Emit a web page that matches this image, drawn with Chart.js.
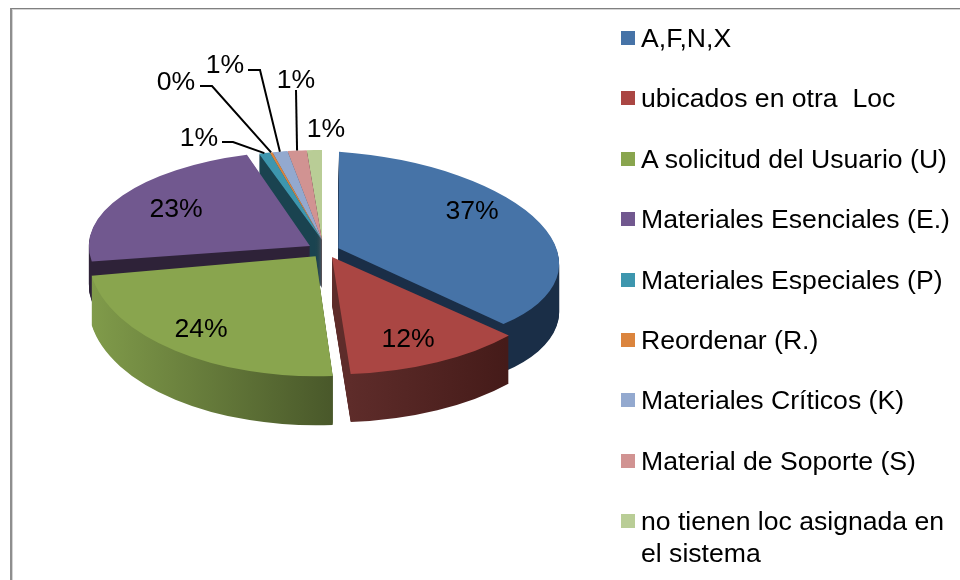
<!DOCTYPE html>
<html lang="es">
<head>
<meta charset="utf-8">
<title>Materiales</title>
<script src="https://cdn.jsdelivr.net/npm/chart.js@4"></script>
<style>
    html, body { margin: 0; padding: 0; background: #fff; overflow: hidden; }
    #wrap { position: relative; width: 960px; height: 580px; overflow: hidden; font-family: "Liberation Sans", Arial, sans-serif; }
    #frame { position: absolute; left: 10px; top: 8px; width: 980px; height: 600px; border-left: 2px solid #8e8e8e; border-top: 1px solid #808080; box-shadow: inset 1px 1px 0 #d4d4d4; }
    #pie { position: absolute; left: 0; top: 0; }
    #legend { position: absolute; left: 621px; top: 23px; width: 330px; margin: 0; padding: 0; list-style: none; }
    #legend li { display: flex; align-items: flex-start; margin-bottom: 28.5px; font-size: 26.6px; line-height: 31.9px; color: #000; white-space: pre-wrap; }
    #legend span.box { flex: none; width: 14px; height: 14px; margin: 8px 6px 0 0; }
</style>
</head>
<body>
<div id="wrap">
    <div id="frame"></div>
    <canvas id="pie" width="960" height="580"></canvas>
    <ul id="legend"></ul>
</div>
<script>
// Data
const categories = ['A,F,N,X', 'ubicados en otra  Loc', 'A solicitud del Usuario (U)', 'Materiales Esenciales (E.)',
    'Materiales Especiales (P)', 'Reordenar (R.)', 'Materiales Críticos (K)', 'Material de Soporte (S)',
    'no tienen loc asignada en el sistema'];
const shares = [36.6, 12.2, 23.6, 23.0, 0.8, 0.2, 1.1, 1.4, 1.1];

// Styles
const topColors = ['#4673a7', '#aa4643', '#89a54e', '#71588f', '#3d96ae', '#db843d', '#93a9cf', '#d19392', '#b9cd96'];
const wallLeft = ['#1a2e47', '#5e2c2a', '#809b4a', '#2e2238', '#1a4350', '#7a4a20', '#4a5a70', '#6a4a4a', '#5a6648'];
const wallRight = ['#1a2e47', '#451b19', '#49582a', '#2e2238', '#1a4350', '#7a4a20', '#4a5a70', '#6a4a4a', '#5a6648'];
const sliceOffsets = [65, 65, 64, 77, 0, 0, 0, 0, 0];
const sliceRx = [217, 233, 227, 221, 221, 221, 221, 221, 221];
const sliceRy = [95, 115, 120, 95, 90, 90, 90, 90, 90];
const sliceShear = [0.07, 0, 0, 0, 0, 0, 0, 0, 0];
const sliceShiftX = [0, 0, 0, 0, -3, -3, -3, -3, -3];
const sliceShiftY = [0, 0, 0, 0, -10, -10, -10, -10, -10];
const sliceDepth = [48, 48, 49, 40, 48, 48, 48, 48, 48];
const pieRadius = 240;
const pieCenter = [325, 250];

// Label placement
const labelX = [472, 408, 201, 176, 199, 176, 225, 296, 326];
const labelY = [212, 340, 330, 210, 139, 83, 66, 81, 130];
const leaderElbows = [null, null, null, null, [[222, 142], [233, 142]], [[200, 86], [212, 86]], [[248, 70], [260, 70]], [[296, 90]], null];

function sliceView(i) {
    const sx = sliceRx[i] / pieRadius;
    return { sx: sx, sy: sliceRy[i] / pieRadius, shear: sliceShear[i] * sx };
}

function paintSlice(ctx, arc, i, depth) {
    const v = sliceView(i);
    ctx.save();
    ctx.translate(pieCenter[0] + sliceShiftX[i], pieCenter[1] + sliceShiftY[i] + depth);
    ctx.transform(v.sx, v.shear, 0, v.sy, 0, 0);
    ctx.translate(-arc.x, -arc.y);
    arc.draw(ctx);
    ctx.restore();
}

function wallFill(ctx, arc, i) {
    const xs = [Math.cos(arc.startAngle), Math.cos(arc.endAngle)];
    if (arc.startAngle < Math.PI && arc.endAngle > Math.PI) xs.push(-1);
    if (arc.startAngle < 0 && arc.endAngle > 0) xs.push(1);
    const x0 = arc.x + Math.min(...xs) * arc.outerRadius;
    const x1 = arc.x + Math.max(...xs) * arc.outerRadius;
    const grad = ctx.createLinearGradient(x0, 0, x1, 0);
    grad.addColorStop(0, wallLeft[i]);
    grad.addColorStop(1, wallRight[i]);
    return grad;
}

// Point on a slice rim, in page pixels
function rimPoint(arc, i) {
    const v = sliceView(i);
    const mid = (arc.startAngle + arc.endAngle) / 2;
    const o = (arc.options.offset || 0) / 4;
    const fix = 1 - Math.sin(Math.min(Math.PI, arc.circumference));
    const r = arc.outerRadius + o * fix + o;
    const u = Math.cos(mid) * r;
    const w = Math.sin(mid) * r;
    return [pieCenter[0] + sliceShiftX[i] + v.sx * u, pieCenter[1] + sliceShiftY[i] + v.shear * u + v.sy * w];
}

const tiltedPie = {
    id: 'tiltedPie',
    beforeDatasetsDraw(chart) {
        const ctx = chart.ctx;
        const arcs = chart.getDatasetMeta(0).data;
        // back to front
        const order = arcs.map((a, i) => i).sort((a, b) =>
            Math.sin((arcs[a].startAngle + arcs[a].endAngle) / 2) - Math.sin((arcs[b].startAngle + arcs[b].endAngle) / 2));
        order.forEach(i => {
            const arc = arcs[i];
            const own = arc.options;
            arc.options = Object.assign({}, own, { backgroundColor: wallFill(ctx, arc, i), borderWidth: 0 });
            for (let d = sliceDepth[i]; d > 0; d--) paintSlice(ctx, arc, i, d);
            arc.options = own;
            paintSlice(ctx, arc, i, 0);
        });
        return false;
    },
    afterDraw(chart) {
        const ctx = chart.ctx;
        const arcs = chart.getDatasetMeta(0).data;
        ctx.save();
        ctx.strokeStyle = '#000';
        ctx.lineWidth = 2;
        leaderElbows.forEach((pts, i) => {
            if (!pts) return;
            const end = rimPoint(arcs[i], i);
            ctx.beginPath();
            pts.forEach((p, n) => n ? ctx.lineTo(p[0], p[1]) : ctx.moveTo(p[0], p[1]));
            ctx.lineTo(end[0], end[1]);
            ctx.stroke();
        });
        ctx.fillStyle = '#000';
        ctx.font = '26.6px "Liberation Sans", Arial, sans-serif';
        ctx.textAlign = 'center';
        ctx.textBaseline = 'middle';
        shares.forEach((s, i) => ctx.fillText(Math.round(s) + '%', labelX[i], labelY[i]));
        ctx.restore();
    }
};

const htmlLegend = {
    id: 'htmlLegend',
    afterUpdate(chart) {
        const list = document.getElementById('legend');
        list.innerHTML = '';
        chart.options.plugins.legend.labels.generateLabels(chart).forEach(item => {
            const li = document.createElement('li');
            const box = document.createElement('span');
            box.className = 'box';
            box.style.background = item.fillStyle;
            const text = document.createElement('span');
            text.textContent = item.text;
            li.appendChild(box);
            li.appendChild(text);
            list.appendChild(li);
        });
    }
};

new Chart(document.getElementById('pie').getContext('2d'), {
    type: 'pie',
    data: {
        labels: categories,
        datasets: [{
            data: shares,
            backgroundColor: topColors,
            borderWidth: 0,
            offset: sliceOffsets
        }]
    },
    options: {
        responsive: false,
        animation: false,
        radius: pieRadius,
        plugins: {
            legend: { display: false },
            tooltip: { enabled: false }
        }
    },
    plugins: [tiltedPie, htmlLegend]
});
</script>
</body>
</html>
